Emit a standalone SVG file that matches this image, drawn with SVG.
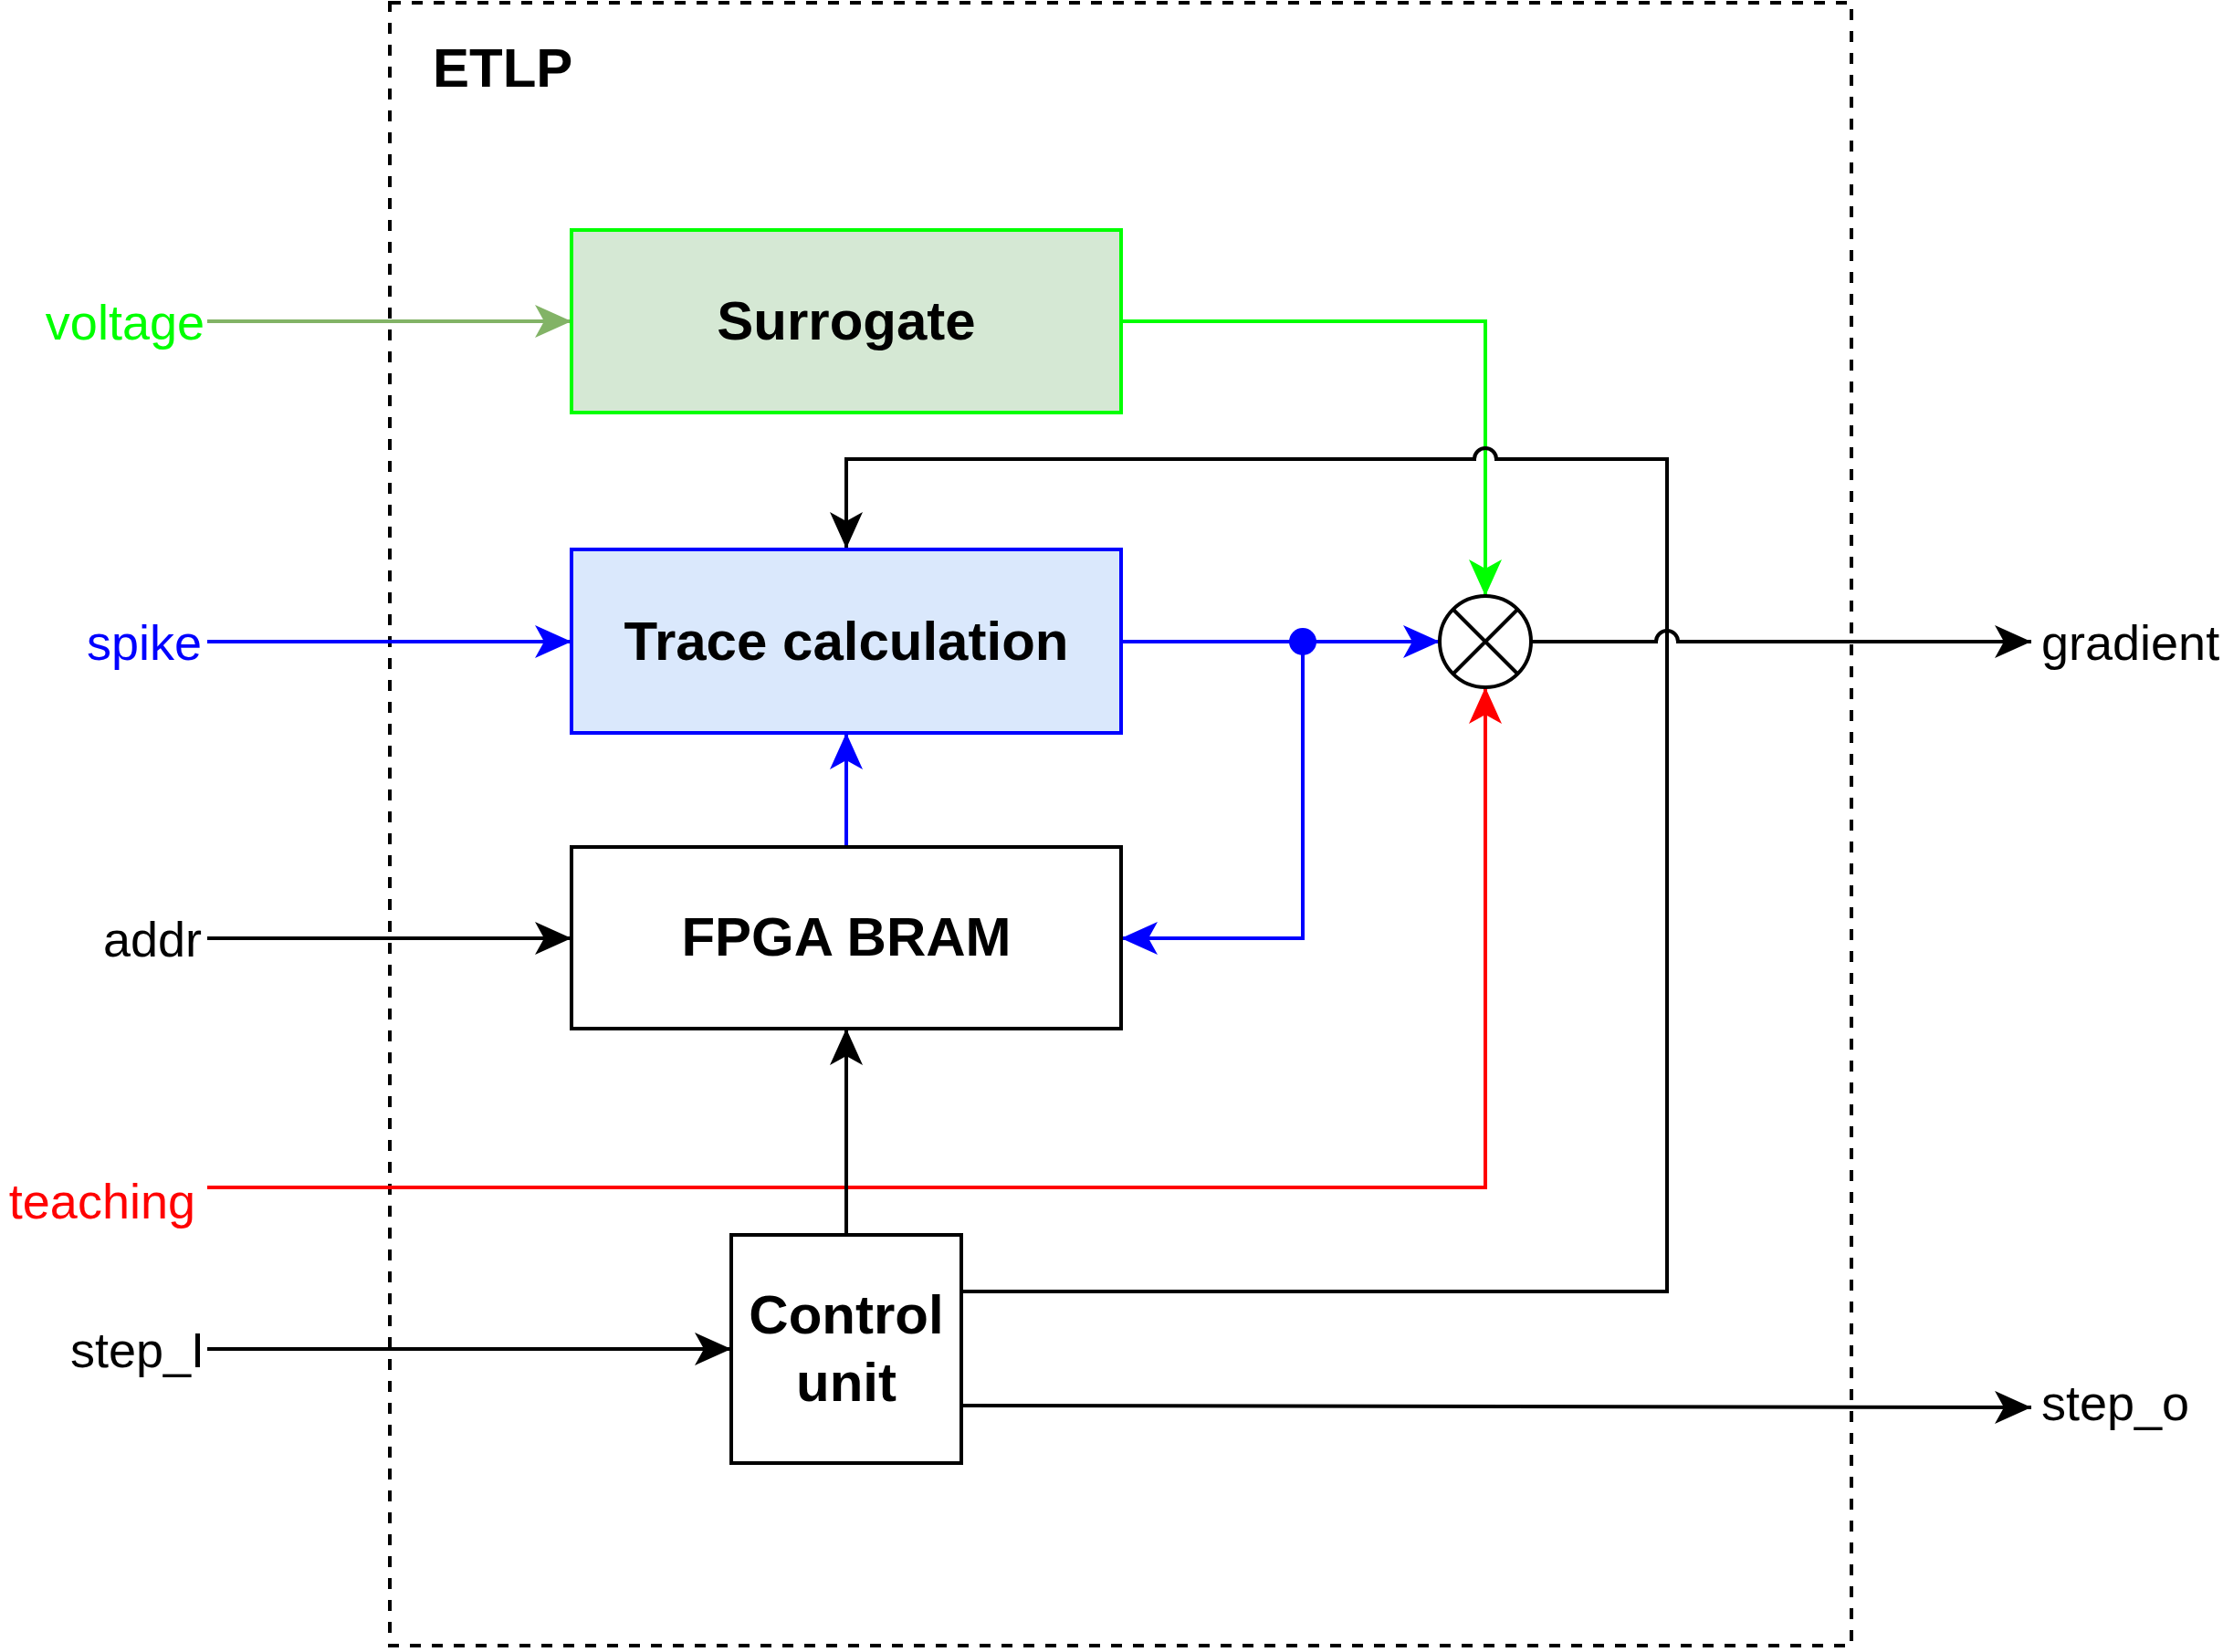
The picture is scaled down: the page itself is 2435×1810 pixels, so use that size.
<svg xmlns="http://www.w3.org/2000/svg" width="2435" height="1810" viewBox="0 0 2435 1810">
<style>
.lbl{font-family:"Liberation Sans",Arial,sans-serif;font-size:54px}
.bt{font-family:"Liberation Sans",Arial,sans-serif;font-size:60px;font-weight:bold;text-anchor:middle}
.w{fill:none;stroke-width:4}
</style>
<defs>
<marker id="a0" viewBox="0 0 40 36" refX="40" refY="18" markerWidth="40" markerHeight="36" orient="auto" markerUnits="userSpaceOnUse"><path d="M0,0 L40,18 L0,36 L10,18 Z" fill="#000"/></marker>
<marker id="ab" viewBox="0 0 40 36" refX="40" refY="18" markerWidth="40" markerHeight="36" orient="auto" markerUnits="userSpaceOnUse"><path d="M0,0 L40,18 L0,36 L10,18 Z" fill="#0000ff"/></marker>
<marker id="ar" viewBox="0 0 40 36" refX="40" refY="18" markerWidth="40" markerHeight="36" orient="auto" markerUnits="userSpaceOnUse"><path d="M0,0 L40,18 L0,36 L10,18 Z" fill="#ff0000"/></marker>
<marker id="ag" viewBox="0 0 40 36" refX="40" refY="18" markerWidth="40" markerHeight="36" orient="auto" markerUnits="userSpaceOnUse"><path d="M0,0 L40,18 L0,36 L10,18 Z" fill="#00ff00"/></marker>
<marker id="av" viewBox="0 0 40 36" refX="40" refY="18" markerWidth="40" markerHeight="36" orient="auto" markerUnits="userSpaceOnUse"><path d="M0,0 L40,18 L0,36 L10,18 Z" fill="#82b366"/></marker>
</defs>
<rect width="2435" height="1810" fill="#fff"/>
<g id="etlp">
<rect x="427" y="3" width="1601" height="1800" fill="none" stroke="#000" stroke-width="4" stroke-dasharray="12 12"/>
<text x="474" y="95" class="bt" style="text-anchor:start">ETLP</text>
</g>
<g id="connectors">
<path class="w" stroke="#82b366" d="M227,352 H626" marker-end="url(#av)"/>
<path class="w" stroke="#0000ff" d="M227,703 H626" marker-end="url(#ab)"/>
<path class="w" stroke="#000" d="M227,1028 H626" marker-end="url(#a0)"/>
<path class="w" stroke="#000" d="M227,1478 H801" marker-end="url(#a0)"/>
<path class="w" stroke="#ff0000" d="M227,1301 H1627 V753" marker-end="url(#ar)"/>
<path class="w" stroke="#00ff00" d="M1228,352 H1627 V653" marker-end="url(#ag)"/>
<path class="w" stroke="#000" d="M1053,1415 H1826 V503 H1639 A12,12 0 0 0 1615,503 H927 V601" marker-end="url(#a0)"/>
<path class="w" stroke="#0000ff" d="M1228,703 H1577" marker-end="url(#ab)"/>
<path class="w" stroke="#0000ff" d="M1427,703 V1028 H1228" marker-end="url(#ab)"/>
<circle cx="1427" cy="703" r="15" fill="#0000ff"/>
<path class="w" stroke="#0000ff" d="M927,927 V803" marker-end="url(#ab)"/>
<path class="w" stroke="#000" d="M927,1353 V1127" marker-end="url(#a0)"/>
<path class="w" stroke="#000" d="M1677,703 H1814 A12,12 0 0 1 1838,703 H2225" marker-end="url(#a0)"/>
<path class="w" stroke="#000" d="M1053,1540 L2225,1542" marker-end="url(#a0)"/>
</g>
<g id="surrogate"><rect x="626" y="252" width="602" height="200" fill="#d5e8d4" stroke="#00ff00" stroke-width="4"/><text x="927" y="372" class="bt">Surrogate</text></g>
<g id="trace"><rect x="626" y="602" width="602" height="201" fill="#dae8fc" stroke="#0000ff" stroke-width="4"/><text x="927" y="723" class="bt">Trace calculation</text></g>
<g id="bram"><rect x="626" y="928" width="602" height="199" fill="#fff" stroke="#000" stroke-width="4"/><text x="927" y="1047" class="bt">FPGA BRAM</text></g>
<g id="control"><rect x="801" y="1353" width="252" height="250" fill="#fff" stroke="#000" stroke-width="4"/><text x="927" y="1461" class="bt">Control</text><text x="927" y="1535" class="bt">unit</text></g>
<g id="mult"><circle cx="1627" cy="703" r="50" fill="#fff" stroke="#000" stroke-width="4"/><path d="M1592,668 L1662,738 M1662,668 L1592,738" stroke="#000" stroke-width="4"/></g>
<g id="labels">
<text x="224" y="372" class="lbl" fill="#00ff00" text-anchor="end">voltage</text>
<text x="221" y="723" class="lbl" fill="#0000ff" text-anchor="end">spike</text>
<text x="221" y="1048" class="lbl" text-anchor="end">addr</text>
<text x="214" y="1335" class="lbl" fill="#ff0000" text-anchor="end">teaching</text>
<text x="224" y="1498" class="lbl" text-anchor="end">step_I</text>
<text x="2236" y="723" class="lbl">gradient</text>
<text x="2236" y="1556" class="lbl">step_o</text>
</g>
</svg>
